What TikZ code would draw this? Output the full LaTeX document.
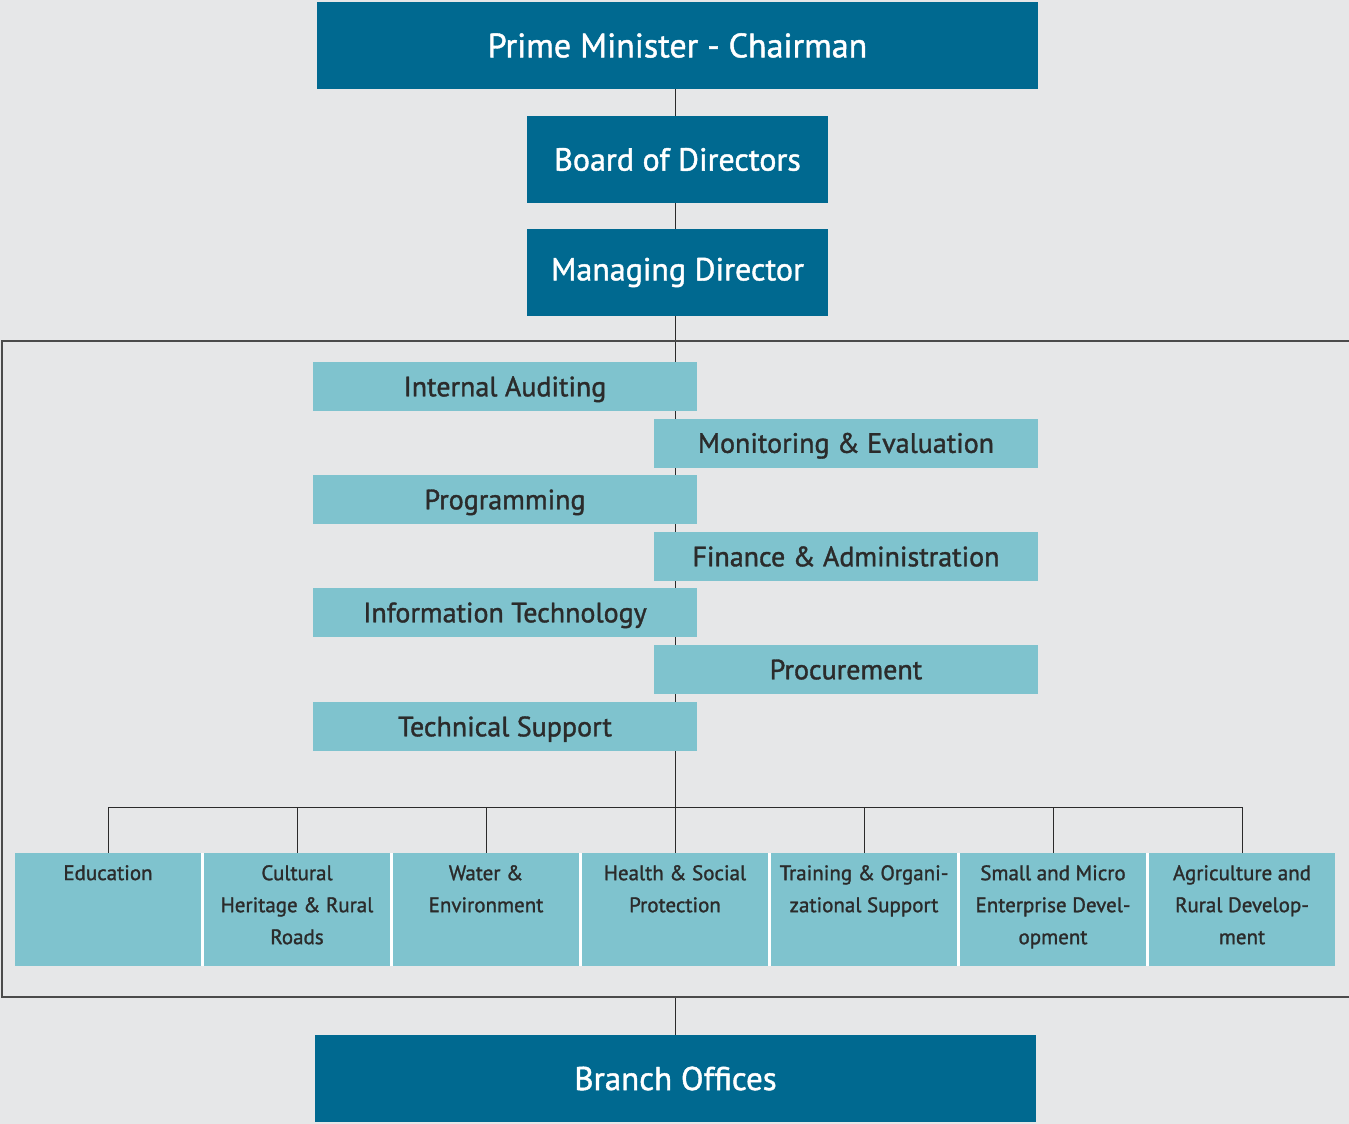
\documentclass[tikz,border=0pt]{standalone}
\usepackage{fontspec}
\setmainfont{PT Sans}[FakeBold=1.3]
\usetikzlibrary{backgrounds}
\definecolor{pagegrey}{HTML}{E6E7E8}
\definecolor{darkteal}{HTML}{006990}
\definecolor{lightteal}{HTML}{7FC3CE}
\definecolor{inkgrey}{HTML}{2B2B2B}
\tikzset{
    headbox/.style={fill=darkteal, text=white, minimum height=87pt, inner sep=0pt,
        font=\fontsize{32}{34}\selectfont},
    officebox/.style={fill=lightteal, text=inkgrey, minimum width=384pt, minimum height=49pt,
        inner sep=0pt, text height=21pt, text depth=1.4pt, font=\fontsize{28}{30}\selectfont},
    unitbox/.style={fill=lightteal, minimum width=186pt, minimum height=113pt, inner sep=0pt},
    unitlabel/.style={text=inkgrey, anchor=north, align=center, inner sep=0pt,
        font=\fontsize{21}{32}\selectfont},
    wire/.style={draw=inkgrey, line width=1pt},
}
\begin{document}
\begin{tikzpicture}[x=1pt, y=-1pt]
    \useasboundingbox (0, 0) rectangle (1349, 1124);
    % top of the chart
    \node[headbox, minimum width=721pt, font=\fontsize{34}{36}\selectfont] (pm) at (677.5, 45.5) {Prime Minister - Chairman};
    \node[headbox, minimum width=301pt] (bod) at (677.5, 159.5) {Board of Directors};
    \node[headbox, minimum width=301pt] (md) at (677.5, 272.5) {Managing Director};
    % offices, left and right of the trunk
    \node[officebox] (audit) at (505, 386.5) {Internal Auditing};
    \node[officebox] (monitor) at (846, 443) {Monitoring \& Evaluation};
    \node[officebox] (prog) at (505, 499.5) {Programming};
    \node[officebox] (finance) at (846, 556.5) {Finance \& Administration};
    \node[officebox] (infotech) at (505, 612.5) {Information Technology};
    \node[officebox] (procure) at (846, 669.5) {Procurement};
    \node[officebox] (techsup) at (505, 726.5) {Technical Support};
    % sector units
    \foreach \i/\txt in {1/Education,
            2/{Cultural\\Heritage \& Rural\\Roads},
            3/{Water \&\\Environment},
            4/{Health \& Social\\Protection},
            5/{Training \& Organi-\\zational Support},
            6/{Small and Micro\\Enterprise Devel-\\opment},
            7/{Agriculture and\\Rural Develop-\\ment}}{
        \node[unitbox] (unit\i) at ({108 + 189*(\i-1)}, 909.5) {};
        \node[unitlabel] (unitlab\i) at ({108 + 189*(\i-1)}, 865) {\txt};
    }
    \node[headbox, minimum width=721pt, font=\fontsize{33}{35}\selectfont] (branch) at (675.5, 1078.5) {Branch Offices};
    \coordinate (bus) at (675, 807);
    \coordinate (frametop) at (675, 341);
    \coordinate (framebot) at (675, 997);
    \begin{pgfonlayer}{background}
        \fill[pagegrey] (0, 0) rectangle (1349, 1124);
        \fill[white] (unit1.north east) rectangle (unit7.south west);
        \draw[wire] (pm.south -| bus) to (bus);
        \draw[wire] (unit1.north |- bus) to (unit7.north |- bus);
        \foreach \i in {1,...,7}
            \draw[wire] (unit\i.north |- bus) to (unit\i.north);
        \draw[wire] (framebot) to (branch.north -| framebot);
        \draw[draw=inkgrey!85, line width=1.5pt] (1352, 341) -- (2, 341) -- (2, 997) -- (1352, 997);
    \end{pgfonlayer}
\end{tikzpicture}
\end{document}
